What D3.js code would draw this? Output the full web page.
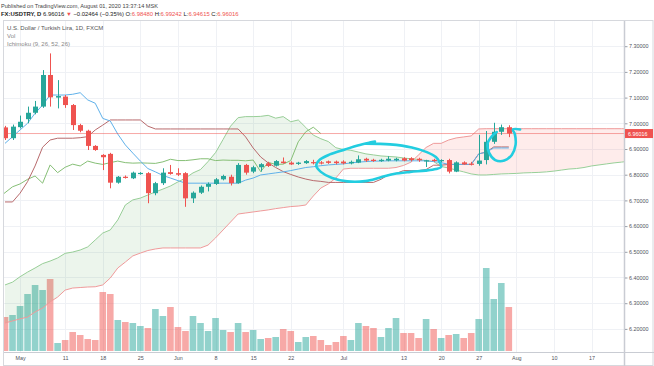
<!DOCTYPE html>
<html>
<head>
<meta charset="utf-8">
<title>USDTRY Ichimoku</title>
<script src="https://cdn.jsdelivr.net/npm/d3@7/dist/d3.min.js"></script>
<style>
    * { padding: 0; margin: 0; box-sizing: border-box; }
    body { background: #fff; overflow: hidden; }
    svg { display: block; font-family: "Liberation Sans", Arial, sans-serif; }
</style>
</head>
<body>
<svg id="chart" width="654" height="366"></svg>
<script>
// FX:USDTRY daily bars, 29 Apr - 31 Jul 2020
const barDates = ["2020-04-29","2020-04-30","2020-05-01","2020-05-04","2020-05-05","2020-05-06","2020-05-07","2020-05-08",
    "2020-05-11","2020-05-12","2020-05-13","2020-05-14","2020-05-15","2020-05-18","2020-05-19","2020-05-20","2020-05-21","2020-05-22",
    "2020-05-25","2020-05-26","2020-05-27","2020-05-28","2020-05-29","2020-06-01","2020-06-02","2020-06-03","2020-06-04","2020-06-05",
    "2020-06-08","2020-06-09","2020-06-10","2020-06-11","2020-06-12","2020-06-15","2020-06-16","2020-06-17","2020-06-18","2020-06-19",
    "2020-06-22","2020-06-23","2020-06-24","2020-06-25","2020-06-26","2020-06-29","2020-06-30","2020-07-01","2020-07-02","2020-07-03",
    "2020-07-06","2020-07-07","2020-07-08","2020-07-09","2020-07-10","2020-07-13","2020-07-14","2020-07-15","2020-07-16","2020-07-17",
    "2020-07-20","2020-07-21","2020-07-22","2020-07-23","2020-07-24","2020-07-27","2020-07-28","2020-07-29","2020-07-30","2020-07-31"]

const open = [6.984,6.942,6.985,7.016,7.041,7.065,7.188,7.100,7.104,7.071,6.993,6.971,6.912,6.877,6.881,6.769,6.792,6.786,6.804,6.806,
    6.728,6.767,6.810,6.806,6.806,6.708,6.730,6.753,6.764,6.782,6.792,6.767,6.838,6.812,6.829,6.844,6.835,6.851,6.847,6.842,
    6.845,6.849,6.848,6.852,6.851,6.851,6.844,6.847,6.862,6.858,6.853,6.855,6.856,6.864,6.864,6.862,6.852,6.858,6.856,6.857,
    6.812,6.848,6.843,6.842,6.857,6.928,6.967,6.9848]
const high = [6.990,6.995,7.030,7.065,7.087,7.207,7.272,7.168,7.110,7.075,6.998,6.975,6.915,6.880,6.885,6.795,6.797,6.812,6.810,6.810,
    6.772,6.825,6.838,6.825,6.810,6.735,6.758,6.770,6.787,6.800,6.800,6.845,6.842,6.835,6.845,6.850,6.857,6.867,6.852,6.850,
    6.857,6.858,6.853,6.855,6.855,6.856,6.855,6.875,6.866,6.862,6.862,6.872,6.866,6.868,6.868,6.866,6.858,6.862,6.860,6.862,
    6.852,6.852,6.850,6.955,6.970,7.002,6.995,6.99242]
const low = [6.935,6.935,6.980,7.000,7.035,7.060,7.065,7.058,7.060,6.974,6.965,6.896,6.893,6.818,6.747,6.765,6.785,6.783,6.800,6.689,
    6.720,6.760,6.800,6.795,6.675,6.690,6.725,6.735,6.760,6.778,6.758,6.765,6.800,6.806,6.812,6.830,6.832,6.843,6.838,6.838,
    6.842,6.840,6.840,6.842,6.840,6.840,6.840,6.845,6.850,6.850,6.850,6.852,6.852,6.852,6.852,6.850,6.830,6.850,6.848,6.805,
    6.810,6.838,6.836,6.835,6.840,6.920,6.955,6.94615]
const close = [6.942,6.987,7.006,7.041,7.065,7.188,7.101,7.106,7.071,6.993,6.971,6.912,6.896,6.868,6.769,6.792,6.789,6.808,6.807,6.728,
    6.767,6.808,6.803,6.800,6.708,6.730,6.753,6.764,6.782,6.795,6.767,6.838,6.808,6.829,6.841,6.834,6.853,6.845,6.840,6.847,
    6.853,6.847,6.845,6.846,6.845,6.844,6.850,6.860,6.855,6.855,6.858,6.862,6.862,6.855,6.857,6.856,6.856,6.854,6.857,6.812,
    6.848,6.840,6.841,6.855,6.928,6.967,6.9848,6.96016]
const volume = [34,36,45,57,66,61,72,8,11,19,16,12,11,59,57,31,29,28,25,23,42,35,44,24,20,35,28,20,33,21,
    19,28,19,21,12,13,14,22,20,9,14,15,11,6,9,15,11,28,25,23,14,23,33,18,18,13,32,22,13,16,
    17,13,18,32,83,52,68,44]

// Ichimoku (9, 26, 52, 26)
const tenkan = [6.922,6.948,6.974,7.000,7.039,7.071,7.110,7.110,7.110,7.113,7.119,7.091,7.078,7.019,7.009,6.958,6.916,6.884,6.853,6.824,
    6.811,6.797,6.787,6.777,6.767,6.767,6.767,6.767,6.767,6.767,6.767,6.767,6.779,6.787,6.799,6.803,6.807,6.811,6.816,6.822,
    6.828,6.831,6.835,6.838,6.840,6.842,6.846,6.849,6.851,6.853,6.853,6.854,6.854,6.854,6.854,6.854,6.854,6.851,6.847,6.840,
    6.840,6.840,6.840,6.881,6.888,6.904,6.904,6.904]
const kijun = [6.694,6.694,6.728,6.773,6.834,6.907,6.935,6.942,6.942,6.942,6.944,6.948,6.974,6.993,7.013,7.013,7.013,7.013,7.013,6.989,
    6.978,6.978,6.978,6.978,6.978,6.978,6.978,6.978,6.978,6.978,6.978,6.978,6.947,6.904,6.869,6.846,6.828,6.812,6.801,6.791,
    6.783,6.777,6.774,6.770,6.770,6.770,6.770,6.770,6.770,6.770,6.782,6.800,6.805,6.816,6.816,6.816,6.820,6.837,6.837,6.840,
    6.840,6.840,6.840,6.881,6.888,6.908,6.908,6.908]
// leading spans, already shifted forward (index = bar slot, runs past the last bar)
const spanA = [6.371,6.382,6.403,6.421,6.437,6.454,6.464,6.476,6.494,6.499,6.507,6.519,6.546,6.573,6.585,6.624,6.682,6.702,6.709,6.721,
    6.733,6.744,6.756,6.772,6.787,6.807,6.820,6.851,6.886,6.937,6.989,7.022,7.026,7.026,7.027,7.031,7.020,7.026,7.006,7.013,
    6.984,6.954,6.940,6.929,6.905,6.898,6.895,6.888,6.881,6.877,6.873,6.871,6.869,6.865,6.862,6.859,6.855,6.851,6.832,6.826,
    6.818,6.811,6.803,6.799,6.799,6.801,6.803,6.804,6.805,6.807,6.808,6.809,6.811,6.814,6.818,6.822,6.824,6.828,6.834,6.838,
    6.842,6.846,6.849,6.853]
const spanB = [6.223,6.231,6.239,6.246,6.266,6.281,6.305,6.324,6.351,6.359,6.361,6.363,6.364,6.371,6.398,6.437,6.460,6.484,6.495,6.505,
    6.511,6.515,6.515,6.515,6.515,6.515,6.515,6.526,6.554,6.585,6.616,6.647,6.651,6.655,6.659,6.663,6.668,6.672,6.676,6.678,
    6.682,6.717,6.748,6.764,6.787,6.822,6.825,6.825,6.825,6.825,6.825,6.825,6.828,6.836,6.849,6.877,6.906,6.922,6.922,6.935,
    6.943,6.947,6.951,6.978,6.979,6.979,6.979,6.979,6.979,6.979,6.979,6.979,6.979,6.979,6.979,6.979,6.979,6.979,6.979,6.979,
    6.979,6.979,6.979,6.979]
const laggingShift = 25

const priceTicks = [6.2,6.3,6.4,6.5,6.6,6.7,6.8,6.9,7.0,7.1,7.2,7.3]
const tickBars = [2,8,13,18,23,28,33,38,45,53,58,63,68,73,78]
const tickLabels = ["May","11","18","25","Jun","8","15","22","Jul","13","20","27","Aug","10","17"]

// hand drawn brush strokes, [bar, price]
const loopStroke = [[48.0,6.921],[51.2,6.918],[54.1,6.906],[56.1,6.888],[57.3,6.869],[57.8,6.849],[58.0,6.830],[57.3,6.822],
    [55.9,6.816],[53.9,6.811],[51.7,6.803],[49.9,6.789],[47.9,6.775],[45.5,6.774],[43.5,6.787],[42.0,6.811],[41.4,6.834],
    [41.8,6.857],[43.2,6.879],[45.2,6.898],[46.9,6.914],[48.5,6.925],[49.2,6.929]]
const hookStroke = [[68.5,6.976],[67.55,6.976],[67.8,6.958],[67.9,6.916],[67.4,6.877],[66.4,6.855],[65.2,6.857],[64.4,6.884],
    [64.2,6.923],[64.8,6.951],[65.4,6.966]]

const W = 654, H = 366
const pane = {left: 4, right: 624, top: 21, bottom: 352}
const upColor = '#26a69a', downColor = '#ef5350'

const x = d3.scaleLinear().domain([0, 82]).range([5, 621.6])
const y = d3.scaleLinear().domain([6.2, 7.3]).range([328.9, 46.2])
const yVol = d3.scaleLinear().domain([0, 83]).range([351, 268])

const svg = d3.select('#chart')

svg.append('defs').append('clipPath').attr('id', 'paneClip')
    .append('rect')
    .attr('x', pane.left).attr('y', pane.top)
    .attr('width', pane.right - pane.left).attr('height', pane.bottom - pane.top)

// header
const head = svg.append('g')
head.append('text').attr('x', 1).attr('y', 7.5).attr('fill', '#444').attr('font-size', 5.6)
    .text('Published on TradingView.com, August 01, 2020 13:37:14 MSK')
const hl = head.append('text').attr('x', 1).attr('y', 16).attr('fill', '#222').attr('font-size', 5.9)
hl.append('tspan').attr('font-weight', 'bold').text('FX:USDTRY, D ')
hl.append('tspan').text(' 6.96016 ')
hl.append('tspan').attr('fill', downColor).text('▼')
hl.append('tspan').text(' \u22120.02464 (\u22120.35%) ')
const ohlc = [['O:', '6.98480'], ['H:', '6.99242'], ['L:', '6.94615'], ['C:', '6.96016']]
ohlc.forEach(function (d) {
    hl.append('tspan').text(' ' + d[0])
    hl.append('tspan').attr('fill', downColor).text(d[1])
})

// frame
svg.append('rect')
    .attr('x', 3.5).attr('y', pane.top - 0.5)
    .attr('width', W - 4.5).attr('height', H - pane.top)
    .attr('fill', 'none').attr('stroke', '#d6d8dd')

const plot = svg.append('g').attr('clip-path', 'url(#paneClip)')

// grid
plot.append('g').selectAll('line').data(priceTicks).join('line')
    .attr('x1', pane.left).attr('x2', pane.right)
    .attr('y1', d => Math.round(y(d)) + 0.5).attr('y2', d => Math.round(y(d)) + 0.5)
    .attr('stroke', '#eff1f5')
plot.append('g').selectAll('line').data(tickBars).join('line')
    .attr('x1', d => Math.round(x(d)) + 0.5).attr('x2', d => Math.round(x(d)) + 0.5)
    .attr('y1', pane.top).attr('y2', pane.bottom)
    .attr('stroke', '#eff1f5')

// volume
plot.append('g').selectAll('rect').data(volume).join('rect')
    .attr('x', (d, i) => x(i) - 3.3)
    .attr('width', 6.6)
    .attr('y', d => yVol(d))
    .attr('height', d => yVol(0) - yVol(d))
    .attr('fill', (d, i) => close[i] >= open[i] ? 'rgba(38,166,154,0.5)' : 'rgba(239,83,80,0.5)')

// cloud
const slots = d3.range(spanA.length)
const cloud = d3.area().x(i => x(i)).y0(i => y(spanB[i])).y1(i => y(spanA[i]))
const aboveB = d3.area().x(i => x(i)).y0(0).y1(i => y(spanB[i]))
const aboveA = d3.area().x(i => x(i)).y0(0).y1(i => y(spanA[i]))
const defs = svg.select('defs')
defs.append('clipPath').attr('id', 'greenSide').append('path').attr('d', aboveB(slots))
defs.append('clipPath').attr('id', 'redSide').append('path').attr('d', aboveA(slots))
plot.append('path').attr('d', cloud(slots)).attr('clip-path', 'url(#greenSide)')
    .attr('fill', 'rgba(67,160,71,0.1)')
plot.append('path').attr('d', cloud(slots)).attr('clip-path', 'url(#redSide)')
    .attr('fill', 'rgba(244,67,54,0.1)')

function drawLine(values, offset, color) {
    const line = d3.line().x((d, i) => x(i + offset)).y(d => y(d))
    plot.append('path').datum(values)
        .attr('d', line)
        .attr('fill', 'none')
        .attr('stroke', color)
        .attr('stroke-width', 1)
}
drawLine(spanA, 0, '#98cf98')
drawLine(spanB, 0, '#ef9a9a')
drawLine(close, -laggingShift, '#86bf76')
drawLine(kijun, 0, '#b86a6c')
drawLine(tenkan, 0, '#5fb1ea')

// last price line
plot.append('line')
    .attr('x1', pane.left).attr('x2', pane.right)
    .attr('y1', y(close[close.length - 1])).attr('y2', y(close[close.length - 1]))
    .attr('stroke', 'rgba(239,83,80,0.5)')

// candles
const candle = plot.append('g').selectAll('g').data(open).join('g')
candle.append('line')
    .attr('x1', (d, i) => Math.round(x(i)) + 0.5).attr('x2', (d, i) => Math.round(x(i)) + 0.5)
    .attr('y1', (d, i) => y(high[i])).attr('y2', (d, i) => y(low[i]))
    .attr('stroke', (d, i) => close[i] >= open[i] ? upColor : downColor)
candle.append('rect')
    .attr('x', (d, i) => Math.round(x(i)) - 2)
    .attr('width', 5)
    .attr('y', (d, i) => y(Math.max(open[i], close[i])))
    .attr('height', (d, i) => Math.max(1.2, Math.abs(y(open[i]) - y(close[i]))))
    .attr('fill', (d, i) => close[i] >= open[i] ? upColor : downColor)

// brush annotation
const brush = d3.line().x(d => x(d[0])).y(d => y(d[1])).curve(d3.curveCatmullRom)
;[loopStroke, hookStroke].forEach(function (pts) {
    plot.append('path').datum(pts)
        .attr('d', brush)
        .attr('fill', 'none')
        .attr('stroke', '#22cde0')
        .attr('stroke-width', 2.6)
        .attr('stroke-linecap', 'round')
        .attr('stroke-linejoin', 'round')
})

// legend
const legend = svg.append('g').attr('font-size', 6)
legend.append('text').attr('x', 7).attr('y', 30).attr('fill', '#555').text('U.S. Dollar / Turkish Lira, 1D, FXCM')
legend.append('text').attr('x', 7).attr('y', 38).attr('fill', '#888').text('Vol')
legend.append('text').attr('x', 7).attr('y', 45.5).attr('fill', '#888').text('Ichimoku (9, 26, 52, 26)')

// price axis
svg.append('line')
    .attr('x1', pane.right + 0.5).attr('x2', pane.right + 0.5)
    .attr('y1', pane.top).attr('y2', H)
    .attr('stroke', '#c9ccd3').attr('stroke-width', 1.5)
const yAxis = svg.append('g')
    .attr('transform', 'translate(' + (pane.right + 1) + ',0)')
    .call(d3.axisRight(y).tickValues(priceTicks).tickFormat(d3.format('.5f')).tickSize(2.5).tickPadding(1.5))
yAxis.select('.domain').remove()
yAxis.selectAll('line').attr('stroke', '#9aa0aa')
yAxis.selectAll('text').attr('font-size', 5.4).attr('fill', '#50545c')
    .attr('font-family', '"Liberation Sans", Arial, sans-serif')

// last price label
const lastY = y(close[close.length - 1])
svg.append('rect')
    .attr('x', pane.right + 1).attr('y', lastY - 4.5)
    .attr('width', 28).attr('height', 9)
    .attr('fill', downColor)
svg.append('text')
    .attr('x', pane.right + 4).attr('y', lastY + 2)
    .attr('font-size', 5.4).attr('fill', '#fff')
    .text(d3.format('.5f')(close[close.length - 1]))

// time axis
svg.append('line')
    .attr('x1', pane.left).attr('x2', W)
    .attr('y1', pane.bottom + 0.5).attr('y2', pane.bottom + 0.5)
    .attr('stroke', '#c9ccd3')
const xAxis = svg.append('g')
    .attr('transform', 'translate(0,' + pane.bottom + ')')
    .call(d3.axisBottom(x).tickValues(tickBars).tickFormat((d, i) => tickLabels[i]).tickSize(0).tickPadding(4.5))
xAxis.select('.domain').remove()
xAxis.selectAll('text').attr('font-size', 5.4).attr('fill', '#50545c')
    .attr('font-family', '"Liberation Sans", Arial, sans-serif')
</script>
</body>
</html>
